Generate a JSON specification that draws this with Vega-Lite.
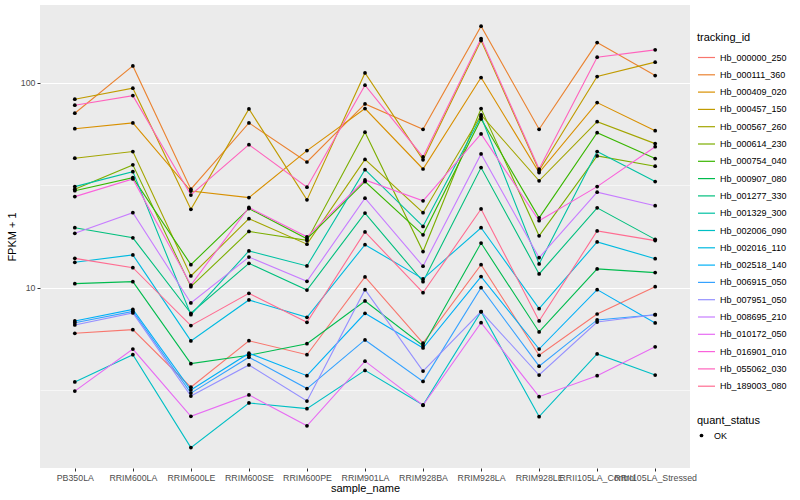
{
"$schema":"https://vega.github.io/schema/vega-lite/v6.json",
"width":650,"height":463,
"autosize":{"type":"none"},
"padding":{"left":40,"top":5,"right":110,"bottom":32},
"background":"white",
"config":{"font":"Liberation Sans","view":{"fill":"#EBEBEB","stroke":null}},
"datasets":{"rows":[
{"tracking_id":"Hb_000000_250","sample_name":"PB350LA","fpkm":5.99,"quant_status":"OK"},
{"tracking_id":"Hb_000000_250","sample_name":"RRIM600LA","fpkm":6.24,"quant_status":"OK"},
{"tracking_id":"Hb_000000_250","sample_name":"RRIM600LE","fpkm":3.27,"quant_status":"OK"},
{"tracking_id":"Hb_000000_250","sample_name":"RRIM600SE","fpkm":5.51,"quant_status":"OK"},
{"tracking_id":"Hb_000000_250","sample_name":"RRIM600PE","fpkm":4.71,"quant_status":"OK"},
{"tracking_id":"Hb_000000_250","sample_name":"RRIM901LA","fpkm":11.28,"quant_status":"OK"},
{"tracking_id":"Hb_000000_250","sample_name":"RRIM928BA","fpkm":5.36,"quant_status":"OK"},
{"tracking_id":"Hb_000000_250","sample_name":"RRIM928LA","fpkm":12.95,"quant_status":"OK"},
{"tracking_id":"Hb_000000_250","sample_name":"RRIM928LE","fpkm":4.68,"quant_status":"OK"},
{"tracking_id":"Hb_000000_250","sample_name":"RRII105LA_Control","fpkm":7.44,"quant_status":"OK"},
{"tracking_id":"Hb_000000_250","sample_name":"RRII105LA_Stressed","fpkm":10.11,"quant_status":"OK"},
{"tracking_id":"Hb_000111_360","sample_name":"PB350LA","fpkm":70.9,"quant_status":"OK"},
{"tracking_id":"Hb_000111_360","sample_name":"RRIM600LA","fpkm":120.6,"quant_status":"OK"},
{"tracking_id":"Hb_000111_360","sample_name":"RRIM600LE","fpkm":30.2,"quant_status":"OK"},
{"tracking_id":"Hb_000111_360","sample_name":"RRIM600SE","fpkm":63.6,"quant_status":"OK"},
{"tracking_id":"Hb_000111_360","sample_name":"RRIM600PE","fpkm":41.0,"quant_status":"OK"},
{"tracking_id":"Hb_000111_360","sample_name":"RRIM901LA","fpkm":78.7,"quant_status":"OK"},
{"tracking_id":"Hb_000111_360","sample_name":"RRIM928BA","fpkm":59.2,"quant_status":"OK"},
{"tracking_id":"Hb_000111_360","sample_name":"RRIM928LA","fpkm":188.4,"quant_status":"OK"},
{"tracking_id":"Hb_000111_360","sample_name":"RRIM928LE","fpkm":59.2,"quant_status":"OK"},
{"tracking_id":"Hb_000111_360","sample_name":"RRII105LA_Control","fpkm":156.7,"quant_status":"OK"},
{"tracking_id":"Hb_000111_360","sample_name":"RRII105LA_Stressed","fpkm":108.2,"quant_status":"OK"},
{"tracking_id":"Hb_000409_020","sample_name":"PB350LA","fpkm":59.6,"quant_status":"OK"},
{"tracking_id":"Hb_000409_020","sample_name":"RRIM600LA","fpkm":63.6,"quant_status":"OK"},
{"tracking_id":"Hb_000409_020","sample_name":"RRIM600LE","fpkm":29.6,"quant_status":"OK"},
{"tracking_id":"Hb_000409_020","sample_name":"RRIM600SE","fpkm":27.5,"quant_status":"OK"},
{"tracking_id":"Hb_000409_020","sample_name":"RRIM600PE","fpkm":46.6,"quant_status":"OK"},
{"tracking_id":"Hb_000409_020","sample_name":"RRIM901LA","fpkm":74.7,"quant_status":"OK"},
{"tracking_id":"Hb_000409_020","sample_name":"RRIM928BA","fpkm":37.9,"quant_status":"OK"},
{"tracking_id":"Hb_000409_020","sample_name":"RRIM928LA","fpkm":105.8,"quant_status":"OK"},
{"tracking_id":"Hb_000409_020","sample_name":"RRIM928LE","fpkm":36.4,"quant_status":"OK"},
{"tracking_id":"Hb_000409_020","sample_name":"RRII105LA_Control","fpkm":79.9,"quant_status":"OK"},
{"tracking_id":"Hb_000409_020","sample_name":"RRII105LA_Stressed","fpkm":58.3,"quant_status":"OK"},
{"tracking_id":"Hb_000457_150","sample_name":"PB350LA","fpkm":83.0,"quant_status":"OK"},
{"tracking_id":"Hb_000457_150","sample_name":"RRIM600LA","fpkm":93.9,"quant_status":"OK"},
{"tracking_id":"Hb_000457_150","sample_name":"RRIM600LE","fpkm":24.1,"quant_status":"OK"},
{"tracking_id":"Hb_000457_150","sample_name":"RRIM600SE","fpkm":74.4,"quant_status":"OK"},
{"tracking_id":"Hb_000457_150","sample_name":"RRIM600PE","fpkm":26.8,"quant_status":"OK"},
{"tracking_id":"Hb_000457_150","sample_name":"RRIM901LA","fpkm":111.5,"quant_status":"OK"},
{"tracking_id":"Hb_000457_150","sample_name":"RRIM928BA","fpkm":42.0,"quant_status":"OK"},
{"tracking_id":"Hb_000457_150","sample_name":"RRIM928LA","fpkm":160.3,"quant_status":"OK"},
{"tracking_id":"Hb_000457_150","sample_name":"RRIM928LE","fpkm":37.2,"quant_status":"OK"},
{"tracking_id":"Hb_000457_150","sample_name":"RRII105LA_Control","fpkm":107.0,"quant_status":"OK"},
{"tracking_id":"Hb_000457_150","sample_name":"RRII105LA_Stressed","fpkm":125.8,"quant_status":"OK"},
{"tracking_id":"Hb_000567_260","sample_name":"PB350LA","fpkm":42.8,"quant_status":"OK"},
{"tracking_id":"Hb_000567_260","sample_name":"RRIM600LA","fpkm":46.1,"quant_status":"OK"},
{"tracking_id":"Hb_000567_260","sample_name":"RRIM600LE","fpkm":11.4,"quant_status":"OK"},
{"tracking_id":"Hb_000567_260","sample_name":"RRIM600SE","fpkm":21.7,"quant_status":"OK"},
{"tracking_id":"Hb_000567_260","sample_name":"RRIM600PE","fpkm":16.3,"quant_status":"OK"},
{"tracking_id":"Hb_000567_260","sample_name":"RRIM901LA","fpkm":42.2,"quant_status":"OK"},
{"tracking_id":"Hb_000567_260","sample_name":"RRIM928BA","fpkm":23.2,"quant_status":"OK"},
{"tracking_id":"Hb_000567_260","sample_name":"RRIM928LA","fpkm":69.6,"quant_status":"OK"},
{"tracking_id":"Hb_000567_260","sample_name":"RRIM928LE","fpkm":33.2,"quant_status":"OK"},
{"tracking_id":"Hb_000567_260","sample_name":"RRII105LA_Control","fpkm":64.5,"quant_status":"OK"},
{"tracking_id":"Hb_000567_260","sample_name":"RRII105LA_Stressed","fpkm":50.4,"quant_status":"OK"},
{"tracking_id":"Hb_000614_230","sample_name":"PB350LA","fpkm":30.2,"quant_status":"OK"},
{"tracking_id":"Hb_000614_230","sample_name":"RRIM600LA","fpkm":39.7,"quant_status":"OK"},
{"tracking_id":"Hb_000614_230","sample_name":"RRIM600LE","fpkm":10.11,"quant_status":"OK"},
{"tracking_id":"Hb_000614_230","sample_name":"RRIM600SE","fpkm":18.8,"quant_status":"OK"},
{"tracking_id":"Hb_000614_230","sample_name":"RRIM600PE","fpkm":17.0,"quant_status":"OK"},
{"tracking_id":"Hb_000614_230","sample_name":"RRIM901LA","fpkm":57.3,"quant_status":"OK"},
{"tracking_id":"Hb_000614_230","sample_name":"RRIM928BA","fpkm":15.0,"quant_status":"OK"},
{"tracking_id":"Hb_000614_230","sample_name":"RRIM928LA","fpkm":74.7,"quant_status":"OK"},
{"tracking_id":"Hb_000614_230","sample_name":"RRIM928LE","fpkm":17.9,"quant_status":"OK"},
{"tracking_id":"Hb_000614_230","sample_name":"RRII105LA_Control","fpkm":43.9,"quant_status":"OK"},
{"tracking_id":"Hb_000614_230","sample_name":"RRII105LA_Stressed","fpkm":39.1,"quant_status":"OK"},
{"tracking_id":"Hb_000754_040","sample_name":"PB350LA","fpkm":29.7,"quant_status":"OK"},
{"tracking_id":"Hb_000754_040","sample_name":"RRIM600LA","fpkm":34.4,"quant_status":"OK"},
{"tracking_id":"Hb_000754_040","sample_name":"RRIM600LE","fpkm":12.95,"quant_status":"OK"},
{"tracking_id":"Hb_000754_040","sample_name":"RRIM600SE","fpkm":24.3,"quant_status":"OK"},
{"tracking_id":"Hb_000754_040","sample_name":"RRIM600PE","fpkm":17.3,"quant_status":"OK"},
{"tracking_id":"Hb_000754_040","sample_name":"RRIM901LA","fpkm":32.9,"quant_status":"OK"},
{"tracking_id":"Hb_000754_040","sample_name":"RRIM928BA","fpkm":18.1,"quant_status":"OK"},
{"tracking_id":"Hb_000754_040","sample_name":"RRIM928LA","fpkm":66.5,"quant_status":"OK"},
{"tracking_id":"Hb_000754_040","sample_name":"RRIM928LE","fpkm":21.9,"quant_status":"OK"},
{"tracking_id":"Hb_000754_040","sample_name":"RRII105LA_Control","fpkm":57.0,"quant_status":"OK"},
{"tracking_id":"Hb_000754_040","sample_name":"RRII105LA_Stressed","fpkm":42.6,"quant_status":"OK"},
{"tracking_id":"Hb_000907_080","sample_name":"PB350LA","fpkm":10.46,"quant_status":"OK"},
{"tracking_id":"Hb_000907_080","sample_name":"RRIM600LA","fpkm":10.7,"quant_status":"OK"},
{"tracking_id":"Hb_000907_080","sample_name":"RRIM600LE","fpkm":4.26,"quant_status":"OK"},
{"tracking_id":"Hb_000907_080","sample_name":"RRIM600SE","fpkm":4.68,"quant_status":"OK"},
{"tracking_id":"Hb_000907_080","sample_name":"RRIM600PE","fpkm":5.33,"quant_status":"OK"},
{"tracking_id":"Hb_000907_080","sample_name":"RRIM901LA","fpkm":8.61,"quant_status":"OK"},
{"tracking_id":"Hb_000907_080","sample_name":"RRIM928BA","fpkm":5.21,"quant_status":"OK"},
{"tracking_id":"Hb_000907_080","sample_name":"RRIM928LA","fpkm":16.5,"quant_status":"OK"},
{"tracking_id":"Hb_000907_080","sample_name":"RRIM928LE","fpkm":6.08,"quant_status":"OK"},
{"tracking_id":"Hb_000907_080","sample_name":"RRII105LA_Control","fpkm":12.34,"quant_status":"OK"},
{"tracking_id":"Hb_000907_080","sample_name":"RRII105LA_Stressed","fpkm":11.84,"quant_status":"OK"},
{"tracking_id":"Hb_001277_330","sample_name":"PB350LA","fpkm":19.6,"quant_status":"OK"},
{"tracking_id":"Hb_001277_330","sample_name":"RRIM600LA","fpkm":17.5,"quant_status":"OK"},
{"tracking_id":"Hb_001277_330","sample_name":"RRIM600LE","fpkm":7.5,"quant_status":"OK"},
{"tracking_id":"Hb_001277_330","sample_name":"RRIM600SE","fpkm":13.15,"quant_status":"OK"},
{"tracking_id":"Hb_001277_330","sample_name":"RRIM600PE","fpkm":9.74,"quant_status":"OK"},
{"tracking_id":"Hb_001277_330","sample_name":"RRIM901LA","fpkm":23.1,"quant_status":"OK"},
{"tracking_id":"Hb_001277_330","sample_name":"RRIM928BA","fpkm":10.7,"quant_status":"OK"},
{"tracking_id":"Hb_001277_330","sample_name":"RRIM928LA","fpkm":38.5,"quant_status":"OK"},
{"tracking_id":"Hb_001277_330","sample_name":"RRIM928LE","fpkm":11.66,"quant_status":"OK"},
{"tracking_id":"Hb_001277_330","sample_name":"RRII105LA_Control","fpkm":24.5,"quant_status":"OK"},
{"tracking_id":"Hb_001277_330","sample_name":"RRII105LA_Stressed","fpkm":17.2,"quant_status":"OK"},
{"tracking_id":"Hb_001329_300","sample_name":"PB350LA","fpkm":31.1,"quant_status":"OK"},
{"tracking_id":"Hb_001329_300","sample_name":"RRIM600LA","fpkm":36.8,"quant_status":"OK"},
{"tracking_id":"Hb_001329_300","sample_name":"RRIM600LE","fpkm":7.38,"quant_status":"OK"},
{"tracking_id":"Hb_001329_300","sample_name":"RRIM600SE","fpkm":15.1,"quant_status":"OK"},
{"tracking_id":"Hb_001329_300","sample_name":"RRIM600PE","fpkm":12.76,"quant_status":"OK"},
{"tracking_id":"Hb_001329_300","sample_name":"RRIM901LA","fpkm":37.6,"quant_status":"OK"},
{"tracking_id":"Hb_001329_300","sample_name":"RRIM928BA","fpkm":19.9,"quant_status":"OK"},
{"tracking_id":"Hb_001329_300","sample_name":"RRIM928LA","fpkm":68.3,"quant_status":"OK"},
{"tracking_id":"Hb_001329_300","sample_name":"RRIM928LE","fpkm":13.05,"quant_status":"OK"},
{"tracking_id":"Hb_001329_300","sample_name":"RRII105LA_Control","fpkm":46.1,"quant_status":"OK"},
{"tracking_id":"Hb_001329_300","sample_name":"RRII105LA_Stressed","fpkm":32.9,"quant_status":"OK"},
{"tracking_id":"Hb_002006_090","sample_name":"PB350LA","fpkm":3.47,"quant_status":"OK"},
{"tracking_id":"Hb_002006_090","sample_name":"RRIM600LA","fpkm":4.71,"quant_status":"OK"},
{"tracking_id":"Hb_002006_090","sample_name":"RRIM600LE","fpkm":1.66,"quant_status":"OK"},
{"tracking_id":"Hb_002006_090","sample_name":"RRIM600SE","fpkm":2.74,"quant_status":"OK"},
{"tracking_id":"Hb_002006_090","sample_name":"RRIM600PE","fpkm":2.57,"quant_status":"OK"},
{"tracking_id":"Hb_002006_090","sample_name":"RRIM901LA","fpkm":3.95,"quant_status":"OK"},
{"tracking_id":"Hb_002006_090","sample_name":"RRIM928BA","fpkm":2.68,"quant_status":"OK"},
{"tracking_id":"Hb_002006_090","sample_name":"RRIM928LA","fpkm":7.64,"quant_status":"OK"},
{"tracking_id":"Hb_002006_090","sample_name":"RRIM928LE","fpkm":2.35,"quant_status":"OK"},
{"tracking_id":"Hb_002006_090","sample_name":"RRII105LA_Control","fpkm":4.75,"quant_status":"OK"},
{"tracking_id":"Hb_002006_090","sample_name":"RRII105LA_Stressed","fpkm":3.75,"quant_status":"OK"},
{"tracking_id":"Hb_002016_110","sample_name":"PB350LA","fpkm":13.3,"quant_status":"OK"},
{"tracking_id":"Hb_002016_110","sample_name":"RRIM600LA","fpkm":14.44,"quant_status":"OK"},
{"tracking_id":"Hb_002016_110","sample_name":"RRIM600LE","fpkm":5.5,"quant_status":"OK"},
{"tracking_id":"Hb_002016_110","sample_name":"RRIM600SE","fpkm":8.71,"quant_status":"OK"},
{"tracking_id":"Hb_002016_110","sample_name":"RRIM600PE","fpkm":7.17,"quant_status":"OK"},
{"tracking_id":"Hb_002016_110","sample_name":"RRIM901LA","fpkm":16.2,"quant_status":"OK"},
{"tracking_id":"Hb_002016_110","sample_name":"RRIM928BA","fpkm":11.03,"quant_status":"OK"},
{"tracking_id":"Hb_002016_110","sample_name":"RRIM928LA","fpkm":19.6,"quant_status":"OK"},
{"tracking_id":"Hb_002016_110","sample_name":"RRIM928LE","fpkm":7.9,"quant_status":"OK"},
{"tracking_id":"Hb_002016_110","sample_name":"RRII105LA_Control","fpkm":16.7,"quant_status":"OK"},
{"tracking_id":"Hb_002016_110","sample_name":"RRII105LA_Stressed","fpkm":13.85,"quant_status":"OK"},
{"tracking_id":"Hb_002518_140","sample_name":"PB350LA","fpkm":6.88,"quant_status":"OK"},
{"tracking_id":"Hb_002518_140","sample_name":"RRIM600LA","fpkm":7.83,"quant_status":"OK"},
{"tracking_id":"Hb_002518_140","sample_name":"RRIM600LE","fpkm":3.17,"quant_status":"OK"},
{"tracking_id":"Hb_002518_140","sample_name":"RRIM600SE","fpkm":4.79,"quant_status":"OK"},
{"tracking_id":"Hb_002518_140","sample_name":"RRIM600PE","fpkm":3.72,"quant_status":"OK"},
{"tracking_id":"Hb_002518_140","sample_name":"RRIM901LA","fpkm":7.5,"quant_status":"OK"},
{"tracking_id":"Hb_002518_140","sample_name":"RRIM928BA","fpkm":5.08,"quant_status":"OK"},
{"tracking_id":"Hb_002518_140","sample_name":"RRIM928LA","fpkm":11.32,"quant_status":"OK"},
{"tracking_id":"Hb_002518_140","sample_name":"RRIM928LE","fpkm":5.02,"quant_status":"OK"},
{"tracking_id":"Hb_002518_140","sample_name":"RRII105LA_Control","fpkm":9.78,"quant_status":"OK"},
{"tracking_id":"Hb_002518_140","sample_name":"RRII105LA_Stressed","fpkm":6.73,"quant_status":"OK"},
{"tracking_id":"Hb_006915_050","sample_name":"PB350LA","fpkm":6.75,"quant_status":"OK"},
{"tracking_id":"Hb_006915_050","sample_name":"RRIM600LA","fpkm":7.66,"quant_status":"OK"},
{"tracking_id":"Hb_006915_050","sample_name":"RRIM600LE","fpkm":3.06,"quant_status":"OK"},
{"tracking_id":"Hb_006915_050","sample_name":"RRIM600SE","fpkm":4.58,"quant_status":"OK"},
{"tracking_id":"Hb_006915_050","sample_name":"RRIM600PE","fpkm":3.22,"quant_status":"OK"},
{"tracking_id":"Hb_006915_050","sample_name":"RRIM901LA","fpkm":5.56,"quant_status":"OK"},
{"tracking_id":"Hb_006915_050","sample_name":"RRIM928BA","fpkm":3.49,"quant_status":"OK"},
{"tracking_id":"Hb_006915_050","sample_name":"RRIM928LA","fpkm":10.0,"quant_status":"OK"},
{"tracking_id":"Hb_006915_050","sample_name":"RRIM928LE","fpkm":4.14,"quant_status":"OK"},
{"tracking_id":"Hb_006915_050","sample_name":"RRII105LA_Control","fpkm":6.96,"quant_status":"OK"},
{"tracking_id":"Hb_006915_050","sample_name":"RRII105LA_Stressed","fpkm":7.38,"quant_status":"OK"},
{"tracking_id":"Hb_007951_050","sample_name":"PB350LA","fpkm":6.58,"quant_status":"OK"},
{"tracking_id":"Hb_007951_050","sample_name":"RRIM600LA","fpkm":7.53,"quant_status":"OK"},
{"tracking_id":"Hb_007951_050","sample_name":"RRIM600LE","fpkm":2.96,"quant_status":"OK"},
{"tracking_id":"Hb_007951_050","sample_name":"RRIM600SE","fpkm":4.2,"quant_status":"OK"},
{"tracking_id":"Hb_007951_050","sample_name":"RRIM600PE","fpkm":2.8,"quant_status":"OK"},
{"tracking_id":"Hb_007951_050","sample_name":"RRIM901LA","fpkm":9.78,"quant_status":"OK"},
{"tracking_id":"Hb_007951_050","sample_name":"RRIM928BA","fpkm":3.92,"quant_status":"OK"},
{"tracking_id":"Hb_007951_050","sample_name":"RRIM928LA","fpkm":7.64,"quant_status":"OK"},
{"tracking_id":"Hb_007951_050","sample_name":"RRIM928LE","fpkm":3.75,"quant_status":"OK"},
{"tracking_id":"Hb_007951_050","sample_name":"RRII105LA_Control","fpkm":6.8,"quant_status":"OK"},
{"tracking_id":"Hb_007951_050","sample_name":"RRII105LA_Stressed","fpkm":7.38,"quant_status":"OK"},
{"tracking_id":"Hb_008695_210","sample_name":"PB350LA","fpkm":18.4,"quant_status":"OK"},
{"tracking_id":"Hb_008695_210","sample_name":"RRIM600LA","fpkm":23.2,"quant_status":"OK"},
{"tracking_id":"Hb_008695_210","sample_name":"RRIM600LE","fpkm":8.42,"quant_status":"OK"},
{"tracking_id":"Hb_008695_210","sample_name":"RRIM600SE","fpkm":14.1,"quant_status":"OK"},
{"tracking_id":"Hb_008695_210","sample_name":"RRIM600PE","fpkm":10.74,"quant_status":"OK"},
{"tracking_id":"Hb_008695_210","sample_name":"RRIM901LA","fpkm":27.3,"quant_status":"OK"},
{"tracking_id":"Hb_008695_210","sample_name":"RRIM928BA","fpkm":12.72,"quant_status":"OK"},
{"tracking_id":"Hb_008695_210","sample_name":"RRIM928LA","fpkm":44.9,"quant_status":"OK"},
{"tracking_id":"Hb_008695_210","sample_name":"RRIM928LE","fpkm":14.0,"quant_status":"OK"},
{"tracking_id":"Hb_008695_210","sample_name":"RRII105LA_Control","fpkm":29.2,"quant_status":"OK"},
{"tracking_id":"Hb_008695_210","sample_name":"RRII105LA_Stressed","fpkm":25.1,"quant_status":"OK"},
{"tracking_id":"Hb_010172_050","sample_name":"PB350LA","fpkm":3.13,"quant_status":"OK"},
{"tracking_id":"Hb_010172_050","sample_name":"RRIM600LA","fpkm":5.02,"quant_status":"OK"},
{"tracking_id":"Hb_010172_050","sample_name":"RRIM600LE","fpkm":2.36,"quant_status":"OK"},
{"tracking_id":"Hb_010172_050","sample_name":"RRIM600SE","fpkm":3.0,"quant_status":"OK"},
{"tracking_id":"Hb_010172_050","sample_name":"RRIM600PE","fpkm":2.12,"quant_status":"OK"},
{"tracking_id":"Hb_010172_050","sample_name":"RRIM901LA","fpkm":4.38,"quant_status":"OK"},
{"tracking_id":"Hb_010172_050","sample_name":"RRIM928BA","fpkm":2.67,"quant_status":"OK"},
{"tracking_id":"Hb_010172_050","sample_name":"RRIM928LA","fpkm":6.75,"quant_status":"OK"},
{"tracking_id":"Hb_010172_050","sample_name":"RRIM928LE","fpkm":2.94,"quant_status":"OK"},
{"tracking_id":"Hb_010172_050","sample_name":"RRII105LA_Control","fpkm":3.72,"quant_status":"OK"},
{"tracking_id":"Hb_010172_050","sample_name":"RRII105LA_Stressed","fpkm":5.15,"quant_status":"OK"},
{"tracking_id":"Hb_016901_010","sample_name":"PB350LA","fpkm":27.8,"quant_status":"OK"},
{"tracking_id":"Hb_016901_010","sample_name":"RRIM600LA","fpkm":33.9,"quant_status":"OK"},
{"tracking_id":"Hb_016901_010","sample_name":"RRIM600LE","fpkm":10.3,"quant_status":"OK"},
{"tracking_id":"Hb_016901_010","sample_name":"RRIM600SE","fpkm":24.6,"quant_status":"OK"},
{"tracking_id":"Hb_016901_010","sample_name":"RRIM600PE","fpkm":17.7,"quant_status":"OK"},
{"tracking_id":"Hb_016901_010","sample_name":"RRIM901LA","fpkm":33.5,"quant_status":"OK"},
{"tracking_id":"Hb_016901_010","sample_name":"RRIM928BA","fpkm":26.5,"quant_status":"OK"},
{"tracking_id":"Hb_016901_010","sample_name":"RRIM928LA","fpkm":56.2,"quant_status":"OK"},
{"tracking_id":"Hb_016901_010","sample_name":"RRIM928LE","fpkm":21.2,"quant_status":"OK"},
{"tracking_id":"Hb_016901_010","sample_name":"RRII105LA_Control","fpkm":31.1,"quant_status":"OK"},
{"tracking_id":"Hb_016901_010","sample_name":"RRII105LA_Stressed","fpkm":48.7,"quant_status":"OK"},
{"tracking_id":"Hb_055062_030","sample_name":"PB350LA","fpkm":77.6,"quant_status":"OK"},
{"tracking_id":"Hb_055062_030","sample_name":"RRIM600LA","fpkm":86.4,"quant_status":"OK"},
{"tracking_id":"Hb_055062_030","sample_name":"RRIM600LE","fpkm":28.3,"quant_status":"OK"},
{"tracking_id":"Hb_055062_030","sample_name":"RRIM600SE","fpkm":49.8,"quant_status":"OK"},
{"tracking_id":"Hb_055062_030","sample_name":"RRIM600PE","fpkm":30.9,"quant_status":"OK"},
{"tracking_id":"Hb_055062_030","sample_name":"RRIM901LA","fpkm":97.1,"quant_status":"OK"},
{"tracking_id":"Hb_055062_030","sample_name":"RRIM928BA","fpkm":43.4,"quant_status":"OK"},
{"tracking_id":"Hb_055062_030","sample_name":"RRIM928LA","fpkm":163.9,"quant_status":"OK"},
{"tracking_id":"Hb_055062_030","sample_name":"RRIM928LE","fpkm":37.9,"quant_status":"OK"},
{"tracking_id":"Hb_055062_030","sample_name":"RRII105LA_Control","fpkm":133.0,"quant_status":"OK"},
{"tracking_id":"Hb_055062_030","sample_name":"RRII105LA_Stressed","fpkm":144.4,"quant_status":"OK"},
{"tracking_id":"Hb_189003_080","sample_name":"PB350LA","fpkm":13.9,"quant_status":"OK"},
{"tracking_id":"Hb_189003_080","sample_name":"RRIM600LA","fpkm":12.52,"quant_status":"OK"},
{"tracking_id":"Hb_189003_080","sample_name":"RRIM600LE","fpkm":6.53,"quant_status":"OK"},
{"tracking_id":"Hb_189003_080","sample_name":"RRIM600SE","fpkm":9.39,"quant_status":"OK"},
{"tracking_id":"Hb_189003_080","sample_name":"RRIM600PE","fpkm":6.78,"quant_status":"OK"},
{"tracking_id":"Hb_189003_080","sample_name":"RRIM901LA","fpkm":18.7,"quant_status":"OK"},
{"tracking_id":"Hb_189003_080","sample_name":"RRIM928BA","fpkm":9.45,"quant_status":"OK"},
{"tracking_id":"Hb_189003_080","sample_name":"RRIM928LA","fpkm":24.2,"quant_status":"OK"},
{"tracking_id":"Hb_189003_080","sample_name":"RRIM928LE","fpkm":6.88,"quant_status":"OK"},
{"tracking_id":"Hb_189003_080","sample_name":"RRII105LA_Control","fpkm":18.9,"quant_status":"OK"},
{"tracking_id":"Hb_189003_080","sample_name":"RRII105LA_Stressed","fpkm":16.96,"quant_status":"OK"}
]},
"data":{"name":"rows"},
"encoding":{
"x":{"field":"sample_name","type":"nominal",
"sort":["PB350LA","RRIM600LA","RRIM600LE","RRIM600SE","RRIM600PE","RRIM901LA","RRIM928BA","RRIM928LA","RRIM928LE","RRII105LA_Control","RRII105LA_Stressed"],
"scale":{"type":"point","padding":0.6},
"axis":{"title":"sample_name","labelAngle":0,"labelOverlap":false,"labelBound":false,"labelFlush":false,"labelFontSize":8.8,"labelColor":"#4D4D4D","tickColor":"#333333","tickSize":3,"domain":false,"gridColor":"white","gridWidth":1.1,"labelPadding":2,"titleFontSize":11,"titleFontWeight":"normal","titleColor":"black","titlePadding":1}},
"y":{"field":"fpkm","type":"quantitative",
"scale":{"type":"log","domain":[1.32,239],"nice":false},
"axis":{"title":"FPKM + 1","values":[3.1623,10,31.623,100],
"labelExpr":"datum.value == 10 ? '10' : (datum.value == 100 ? '100' : '')",
"labelFontSize":8.8,"labelColor":"#4D4D4D","tickColor":"#333333","tickSize":3,
"tickOpacity":{"condition":{"test":"datum.value == 10 || datum.value == 100","value":1},"value":0},
"gridWidth":{"condition":{"test":"datum.value == 10 || datum.value == 100","value":1.1},"value":0.55},
"gridColor":"white","domain":false,"labelPadding":2,"titleFontSize":11,"titleFontWeight":"normal","titleColor":"black","titlePadding":3}}
},
"layer":[
{"mark":{"type":"line","strokeWidth":1.1},
"encoding":{"color":{"field":"tracking_id","type":"nominal",
"scale":{"range":["#F8766D","#EA8331","#D89000","#C09B00","#A3A500","#7CAE00","#39B600","#00BB4E","#00BF7D","#00C1A3","#00BFC4","#00BAE0","#00B0F6","#35A2FF","#9590FF","#C77CFF","#E76BF3","#FA62DB","#FF62BC","#FF6C91"]},
"legend":{"title":"tracking_id","orient":"none","legendX":657,"legendY":27,"titleFontSize":11,"titleFontWeight":"normal","titleColor":"black","labelFontSize":9,"labelColor":"black","symbolType":"stroke","symbolSize":289,"symbolStrokeWidth":1.2,"rowPadding":2.3,"labelOffset":4,"titlePadding":5}}}},
{"mark":{"type":"point","filled":true,"size":14,"color":"black","opacity":1},
"encoding":{"shape":{"field":"quant_status","type":"nominal","scale":{"range":["circle"]},
"legend":{"title":"quant_status","orient":"none","legendX":657,"legendY":410,"titleFontSize":11,"titleFontWeight":"normal","titleColor":"black","labelFontSize":9,"labelColor":"black","symbolFillColor":"black","symbolStrokeColor":"black","symbolSize":14,"labelOffset":8,"titlePadding":5}}}}
]
}
